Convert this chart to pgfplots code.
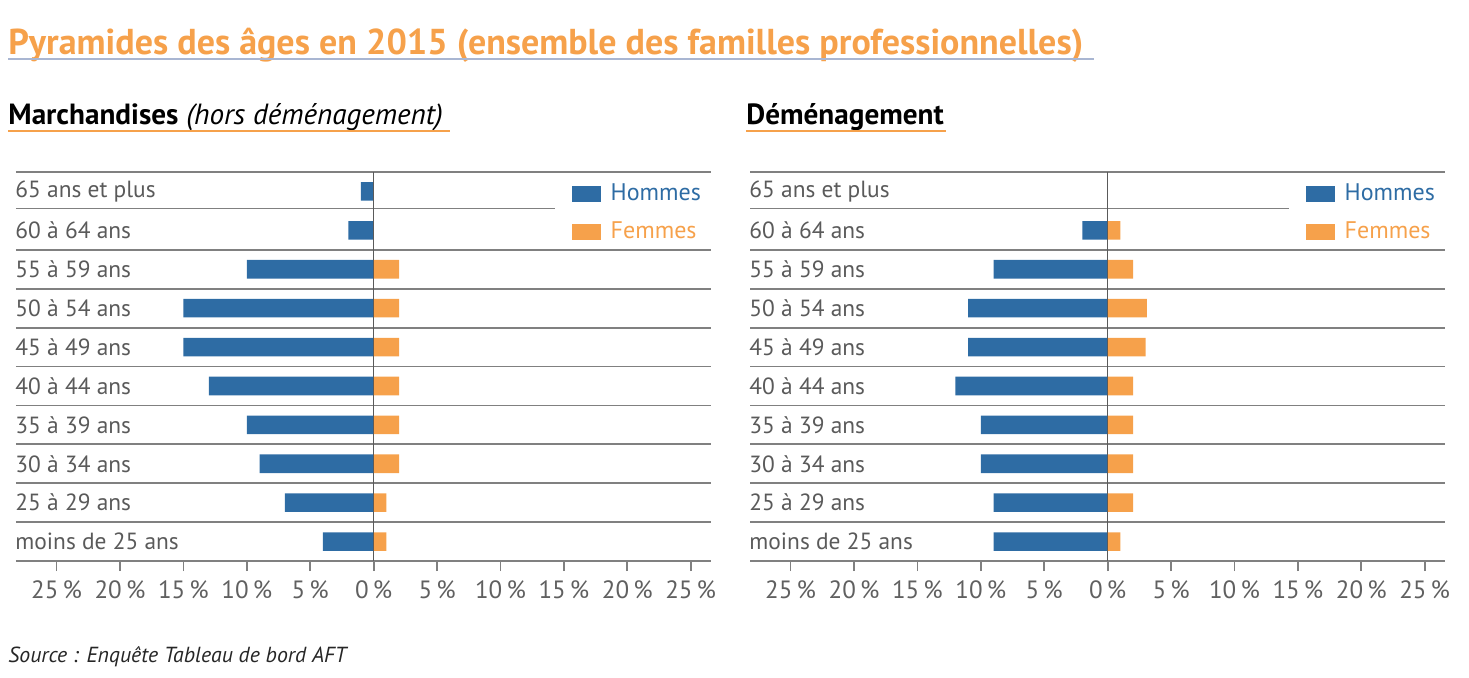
\documentclass[border=0pt]{standalone}
\usepackage{fontspec}
\setmainfont{PT Sans}
\usepackage{pgfplots}
\usepackage{pgfplotstable}
\pgfplotsset{compat=1.18}
\definecolor{hblue}{HTML}{2E6CA4}
\definecolor{forange}{HTML}{F6A14B}
\definecolor{gridgray}{HTML}{808080}
\definecolor{axgray}{HTML}{5A5A5A}
\definecolor{lblgray}{HTML}{5A5A5A}
\definecolor{tickgray}{HTML}{606060}
\definecolor{titleline}{HTML}{A9B6D2}

% y: 0 = moins de 25 ans ... 9 = 65 ans et plus
\pgfplotstableread{
y h f
0 -4 1
1 -7 1
2 -9 2
3 -10 2
4 -13 2
5 -15 2
6 -15 2
7 -10 2
8 -2 0
9 -1 0
}\marchandises

\pgfplotstableread{
y h f
0 -9 1
1 -9 2
2 -10 2
3 -10 2
4 -12 2
5 -11 3
6 -11 3.1
7 -9 2
8 -2 1
9 0 0
}\demenagement

\pgfplotsset{pyr/.style={
  scale only axis, width=347.5pt, height=194.5pt,
  xmin=-28.2, xmax=26.6, ymin=-0.5, ymax=9.5,
  axis line style={draw=none},
  xbar, bar shift=0pt, bar width=9.3pt,
  legend image code/.code={\fill[##1,draw=none] (0pt,-4pt) rectangle (14.5pt,4pt);},
  xtick={-25,-20,...,25},
  xticklabels={25\,\%,20\,\%,15\,\%,10\,\%,5\,\%,0\,\%,5\,\%,10\,\%,15\,\%,20\,\%,25\,\%},
  xtick pos=bottom, tick align=outside, major tick length=5pt,
  xtick style={gridgray, line width=0.9pt},
  xticklabel style={font=\fontsize{12.5}{14}\selectfont, text=tickgray, yshift=-1.5pt},
  ytick={0,...,9},
  yticklabels={moins de 25 ans,25 à 29 ans,30 à 34 ans,35 à 39 ans,40 à 44 ans,45 à 49 ans,50 à 54 ans,55 à 59 ans,60 à 64 ans,65 ans et plus},
  ytick pos=left, ytick style={draw=none},
  yticklabel style={anchor=west, inner sep=0pt, xshift=4.5pt, font=\fontsize{11.7}{13}\selectfont, text=lblgray},
  extra y ticks={-0.5,0.5,1.5,2.5,3.5,4.5,5.5,6.5,7.5,9.5},
  extra y tick labels={},
  extra y tick style={grid=major, major grid style={gridgray, line width=0.9pt}, ytick style={draw=none}},
  legend style={draw=none, fill=none, at={(0.799,0.975)}, anchor=north west, inner sep=0pt,
    row sep=7pt, font=\fontsize{12}{13}\selectfont, legend cell align=left,
    nodes={inner sep=1pt, anchor=west},
    /tikz/every odd column/.append style={column sep=4pt}},
}}

\begin{document}
\begin{tikzpicture}
\useasboundingbox (0,0) rectangle (734.5pt,338.5pt);

% title
\node[anchor=base west, inner sep=0pt, text=forange, font=\fontsize{18}{20}\selectfont\bfseries] at (4pt,311.5pt)
  {Pyramides des âges en 2015 (ensemble des familles professionnelles)};
\draw[titleline, line width=1pt] (4pt,309pt) -- (547pt,309pt);

% subtitles
\node[anchor=base west, inner sep=0pt, font=\fontsize{14.6}{16}\selectfont] at (4pt,276.5pt)
  {\textbf{Marchandises} \textit{(hors déménagement)}};
\draw[forange, line width=1pt] (4pt,273pt) -- (225pt,273pt);
\node[anchor=base west, inner sep=0pt, font=\fontsize{14.6}{16}\selectfont\bfseries] at (373pt,276.5pt)
  {Déménagement};
\draw[forange, line width=1pt] (373pt,273pt) -- (473pt,273pt);

% source
\node[anchor=base west, inner sep=0pt, font=\fontsize{10.9}{12}\selectfont\itshape, text=black!85] at (4pt,7.5pt)
  {Source : Enquête Tableau de bord AFT};

\begin{axis}[pyr, at={(8pt,58pt)}, anchor=south west]
\addplot[fill=hblue, draw=none] table[x=h, y=y] {\marchandises};
\addlegendentry{\textcolor{hblue}{Hommes}}
\addplot[fill=forange, draw=none] table[x=f, y=y] {\marchandises};
\addlegendentry{\textcolor{forange}{Femmes}}
\draw[gridgray, line width=0.9pt] (axis cs:-28.2,8.56) -- (axis cs:14.3,8.56);
\draw[axgray, line width=0.7pt] (axis cs:0,-0.5) -- (axis cs:0,9.5);
\end{axis}

\begin{axis}[pyr, at={(375pt,58pt)}, anchor=south west]
\addplot[fill=hblue, draw=none] table[x=h, y=y] {\demenagement};
\addlegendentry{\textcolor{hblue}{Hommes}}
\addplot[fill=forange, draw=none] table[x=f, y=y] {\demenagement};
\addlegendentry{\textcolor{forange}{Femmes}}
\draw[gridgray, line width=0.9pt] (axis cs:-28.2,8.56) -- (axis cs:14.3,8.56);
\draw[axgray, line width=0.7pt] (axis cs:0,-0.5) -- (axis cs:0,9.5);
\end{axis}
\end{tikzpicture}
\end{document}
